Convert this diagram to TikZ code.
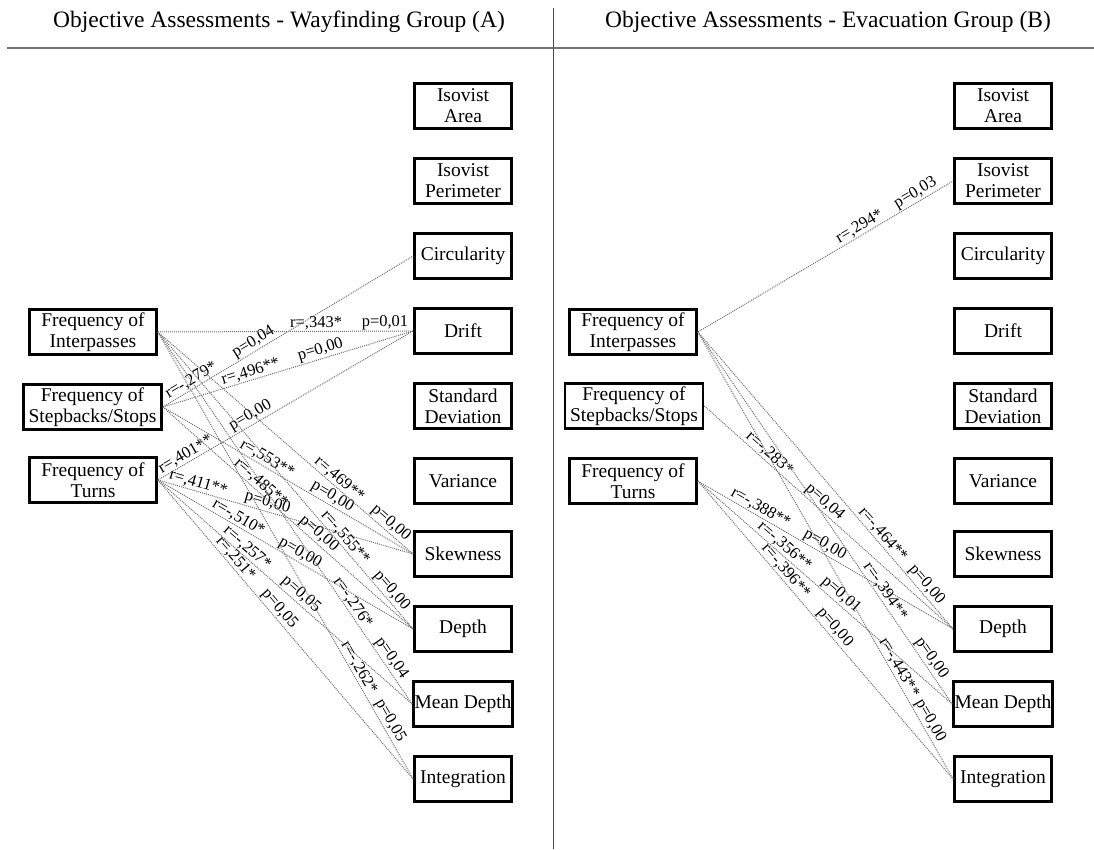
\documentclass[tikz,border=0pt]{standalone}
\usepackage{fontspec}
\setmainfont{Liberation Serif}
\begin{document}
\begin{tikzpicture}[x=1pt,y=-1pt,
  box/.style={draw, line width=2.8pt, align=center, font=\fontsize{19.5}{21}\selectfont, inner sep=1pt, minimum height=45pt},
  rbox/.style={box, minimum width=97pt},
  fbox/.style={box, minimum width=127pt},
  sbox/.style={box, minimum width=138pt},
  lnk/.style={draw=black!55, densely dotted, line width=1pt},
  lab/.style={sloped, above=0.5pt, inner sep=0.5pt, font=\fontsize{16.5}{18}\selectfont},
  ttl/.style={font=\fontsize{23.5}{26}\selectfont}]
\useasboundingbox (0,0) rectangle (1094,849);
% titles and rules
\node[ttl] (tA) at (279,22) {Objective Assessments - Wayfinding Group (A)};
\node[ttl] (tB) at (828,22) {Objective Assessments - Evacuation Group (B)};
\draw[black!55, line width=2pt] (7,47.5) -- (1094,47.5);
\draw[black!70, line width=1pt] (553,8) -- (553,849);
% ---------- panel A ----------
\node[fbox] (aI) at (93,332) {Frequency of\\Interpasses};
\node[sbox] (aS) at (92.5,407) {Frequency of\\Stepbacks/Stops};
\node[fbox] (aT) at (93,480) {Frequency of\\Turns};
\node[rbox] (aIA) at (463,106) {Isovist\\Area};
\node[rbox] (aIP) at (463,181) {Isovist\\Perimeter};
\node[rbox] (aCi) at (463,256) {Circularity};
\node[rbox] (aDr) at (463,331) {Drift};
\node[rbox] (aSD) at (463,406) {Standard\\Deviation};
\node[rbox] (aVa) at (463,481) {Variance};
\node[rbox] (aSk) at (463,554) {Skewness};
\node[rbox] (aDe) at (463,629) {Depth};
\node[rbox] (aMD) at (463,704) {Mean Depth};
\node[rbox] (aIn) at (463,779) {Integration};
\draw[lnk] (aS.east) -- node[lab,pos=0.13]{r=-,279*} node[lab,pos=0.38]{p=0,04} (aCi.west);
\draw[lnk] (aI.east) -- node[lab,pos=0.62]{r=,343*} node[lab,pos=0.89]{p=0,01} (aDr.west);
\draw[lnk] (aS.east) -- node[lab,pos=0.36]{r=,496**} node[lab,pos=0.64]{p=0,00} (aDr.west);
\draw[lnk] (aT.east) -- node[lab,pos=0.125]{r=,401**} node[lab,pos=0.38]{p=0,00} (aDr.west);
\draw[lnk] (aT.east) -- node[lab,pos=0.15]{r=,411**} node[lab,pos=0.42]{p=0,00} (aSk.west);
\draw[lnk] (aS.east) -- node[lab,pos=0.40]{r=,553**} node[lab,pos=0.66]{p=0,00} (aSk.west);
\draw[lnk] (aI.east) -- node[lab,pos=0.69]{r=,469**} node[lab,pos=0.89]{p=0,00} (aSk.west);
\draw[lnk] (aS.east) -- node[lab,pos=0.37]{r=-,485**} node[lab,pos=0.60]{p=0,00} (aDe.west);
\draw[lnk] (aI.east) -- node[lab,pos=0.71]{r=-,555**} node[lab,pos=0.89]{p=0,00} (aDe.west);
\draw[lnk] (aT.east) -- node[lab,pos=0.30]{r=-,510*} node[lab,pos=0.54]{p=0,00} (aDe.west);
\draw[lnk] (aI.east) -- node[lab,pos=0.74]{r=-,276*} node[lab,pos=0.89]{p=0,04} (aMD.west);
\draw[lnk] (aT.east) -- node[lab,pos=0.33]{r=-,257*} node[lab,pos=0.54]{p=0,05} (aMD.west);
\draw[lnk] (aI.east) -- node[lab,pos=0.76]{r=-,262*} node[lab,pos=0.88]{p=0,05} (aIn.west);
\draw[lnk] (aT.east) -- node[lab,pos=0.28]{r=,251*} node[lab,pos=0.45]{p=0,05} (aIn.west);
% ---------- panel B ----------
\node[fbox] (bI) at (633,332) {Frequency of\\Interpasses};
\node[sbox] (bS) at (634,406) {Frequency of\\Stepbacks/Stops};
\node[fbox] (bT) at (633,481) {Frequency of\\Turns};
\node[rbox] (bIA) at (1003,106) {Isovist\\Area};
\node[rbox] (bIP) at (1003,181) {Isovist\\Perimeter};
\node[rbox] (bCi) at (1003,256) {Circularity};
\node[rbox] (bDr) at (1003,331) {Drift};
\node[rbox] (bSD) at (1003,406) {Standard\\Deviation};
\node[rbox] (bVa) at (1003,481) {Variance};
\node[rbox] (bSk) at (1003,554) {Skewness};
\node[rbox] (bDe) at (1003,629) {Depth};
\node[rbox] (bMD) at (1003,704) {Mean Depth};
\node[rbox] (bIn) at (1003,779) {Integration};
\draw[lnk] (bI.east) -- node[lab,pos=0.65]{r=,294*} node[lab,pos=0.87]{p=0,03} (bIP.west);
\draw[lnk] (bS.east) -- node[lab,pos=0.24]{r=-,283*} node[lab,pos=0.46]{p=0,04} (bDe.west);
\draw[lnk] (bI.east) -- node[lab,pos=0.70]{r=-,464**} node[lab,pos=0.87]{p=0,00} (bDe.west);
\draw[lnk] (bT.east) -- node[lab,pos=0.23]{r=-,388**} node[lab,pos=0.48]{p=0,00} (bDe.west);
\draw[lnk] (bT.east) -- node[lab,pos=0.32]{r=-,356**} node[lab,pos=0.54]{p=0,01} (bMD.west);
\draw[lnk] (bT.east) -- node[lab,pos=0.32]{r=-,396**} node[lab,pos=0.51]{p=0,00} (bIn.west);
\draw[lnk] (bI.east) -- node[lab,pos=0.71]{r=-,394**} node[lab,pos=0.89]{p=0,00} (bMD.west);
\draw[lnk] (bI.east) -- node[lab,pos=0.76]{r=-,443**} node[lab,pos=0.88]{p=0,00} (bIn.west);
\end{tikzpicture}
\end{document}
